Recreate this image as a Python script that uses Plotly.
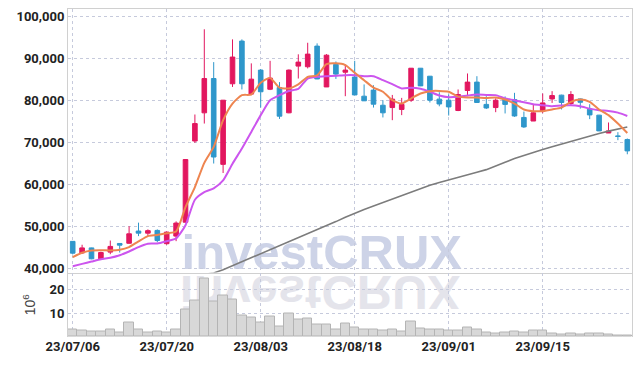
import base64
import plotly.graph_objects as go

# ---------------- data ----------------
dates = [
    "23/07/06", "23/07/07", "23/07/10", "23/07/11", "23/07/12", "23/07/13", "23/07/14",
    "23/07/17", "23/07/18", "23/07/19", "23/07/20", "23/07/21", "23/07/24", "23/07/25",
    "23/07/26", "23/07/27", "23/07/28", "23/07/31",
    "23/08/01", "23/08/02", "23/08/03", "23/08/04", "23/08/07", "23/08/08", "23/08/09",
    "23/08/10", "23/08/11", "23/08/14", "23/08/16", "23/08/17", "23/08/18", "23/08/21",
    "23/08/22", "23/08/23", "23/08/24", "23/08/25", "23/08/28", "23/08/29", "23/08/30",
    "23/08/31",
    "23/09/01", "23/09/04", "23/09/05", "23/09/06", "23/09/07", "23/09/08", "23/09/11",
    "23/09/12", "23/09/13", "23/09/14", "23/09/15", "23/09/18", "23/09/19", "23/09/20",
    "23/09/21", "23/09/22", "23/09/25", "23/09/26", "23/09/27",
    "23/10/04",
]

opens = [46450, 43700, 44900, 42300, 43900, 45950, 46000, 48900, 48400, 49050,
         45900, 47700, 51000, 70300, 77000, 85150, 64750, 83900, 94050, 81450,
         87150, 82600, 83000, 77000, 88100, 87950, 92850, 83150, 88500, 86650,
         85500, 80950, 82400, 78800, 78250, 77800, 80000, 87600, 85700, 80250,
         80000, 77550, 82300, 84300, 79000, 78250, 80300, 80150, 75900, 75050,
         77400, 80300, 81200, 79200, 80300, 77850, 76450, 72200, 71500, 70650]
highs = [46500, 45650, 44950, 44000, 46650, 46000, 50050, 50900, 49300, 49300,
         48800, 51200, 66000, 76600, 96850, 89050, 80050, 94450, 94450, 88750,
         87400, 89350, 84300, 87300, 90900, 93650, 93500, 90950, 89200, 88500,
         89350, 83750, 83550, 80000, 81250, 80550, 87650, 87650, 85750, 81900,
         81350, 82550, 86350, 85700, 80950, 80450, 80900, 81750, 77300, 78950,
         81600, 82150, 81300, 82150, 80400, 79050, 76500, 74700, 72400, 70900]
lows = [43350, 43500, 42200, 42100, 43400, 43800, 45900, 47700, 47700, 46250,
        45650, 46500, 50900, 69850, 74450, 64950, 62700, 83150, 82550, 81400,
        78250, 82400, 75550, 76900, 85150, 87550, 85000, 83150, 85050, 80950,
        81200, 79800, 78250, 75900, 75250, 76450, 79600, 83350, 79450, 78550,
        76350, 77400, 80950, 79400, 77900, 77150, 76850, 76050, 73400, 75050,
        76900, 79350, 77800, 78850, 78000, 75500, 72650, 72200, 70500, 67150]
closes = [43650, 44900, 42300, 43800, 45250, 45550, 48250, 48400, 49000, 46650,
          48650, 50800, 65900, 74450, 85150, 66500, 80000, 90250, 83900, 85000,
          82000, 85250, 76200, 87150, 89050, 90950, 85050, 90700, 86200, 87150,
          81250, 79850, 79050, 77000, 80250, 79000, 87600, 83400, 80000, 79100,
          78400, 81350, 84300, 79450, 78150, 80000, 79000, 76250, 73650, 77000,
          79350, 81100, 79450, 81350, 79500, 76500, 72700, 72700, 71400, 67950]

ma_short = [42700, 43750, 44300, 44350, 44300, 44450, 45100, 46450, 47700, 47950,
            48400, 48800, 54600, 59350, 65100, 68900, 75250, 79200, 81200, 81350,
            84150, 85300, 83000, 82800, 83750, 85550, 85900, 88550, 88750, 88350,
            86500, 84750, 83000, 82000, 80000, 79200, 80400, 81600, 82150, 82200,
            82000, 80850, 80650, 80650, 80550, 80650, 80150, 79200, 77800, 77400,
            77400, 77800, 78250, 79600, 80150, 79600, 77800, 76450, 74450, 72200]
ma_mid = [40550, 41100, 41650, 42200, 42550, 43150, 44050, 45100, 45900, 45950,
          46500, 47150, 50300, 56350, 58150, 59050, 60950, 64900, 68500, 72450,
          76450, 80000, 81200, 82200, 82700, 85150, 85550, 85700, 85800, 85950,
          85950, 85700, 85700, 84750, 83800, 82800, 82950, 82700, 82000, 81100,
          80700, 80800, 81100, 81350, 81250, 81200, 80400, 80000, 79500, 79050,
          78800, 78550, 78750, 78800, 78550, 78000, 77600, 77450, 77050, 76250]
ma_long = [None] * 14 + [
    38600, 38950, 39700, 40650, 41600, 42550, 43500, 44450, 45400, 46350,
    47250, 48200, 49150, 50150, 51150, 52200, 53200, 54050, 54850, 55700,
    56550, 57400, 58250, 59100, 59800, 60450, 61100, 61650, 62250, 62900,
    63500, 64300, 65250, 66150, 66900, 67600, 68300, 68950, 69600, 70200,
    70850, 71500, 72100, 72650, 73150, 73650]

volume = [3.3, 2.9, 2.5, 2.5, 3.3, 2.1, 6.2, 3.3, 2.1, 2.5,
          2.1, 3.3, 11.7, 15.3, 24.6, 14.9, 17.4, 15.8, 9.2, 8.3,
          6.2, 8.7, 4.6, 9.9, 7.5, 7.9, 5.1, 5.4, 3.2, 5.8,
          4.2, 3.3, 3.0, 2.8, 3.3, 2.2, 6.6, 3.4, 3.3, 3.2,
          2.9, 2.8, 4.1, 3.3, 1.7, 1.3, 2.0, 2.3, 1.9, 2.6,
          2.8, 1.4, 1.1, 1.4, 1.0, 1.4, 1.4, 1.0, 0.8, 0.8]

price_ticks = [40000, 50000, 60000, 70000, 80000, 90000, 100000]
volume_ticks = [10, 20]
date_ticks = dates[::10]

# ---------------- styling ----------------
RED = "#e2175f"
BLUE = "#2f97cb"
GRID = "#c6cadc"
FRAME = "#d0d0d0"
TICKFONT = dict(family="Roboto, sans-serif", size=13, color="#222222", weight="bold")

fig = go.Figure()
fig.add_trace(go.Candlestick(
    x=dates, open=opens, high=highs, low=lows, close=closes,
    increasing=dict(line=dict(color=RED, width=1), fillcolor=RED),
    decreasing=dict(line=dict(color=BLUE, width=1), fillcolor=BLUE),
    whiskerwidth=0, xaxis="x", yaxis="y", showlegend=False, name="price"))
fig.add_trace(go.Scatter(x=dates, y=ma_long, mode="lines", xaxis="x", yaxis="y",
                         line=dict(color="#7c7c7c", width=1.6), showlegend=False))
fig.add_trace(go.Scatter(x=dates, y=ma_mid, mode="lines", xaxis="x", yaxis="y",
                         line=dict(color="#cc55ee", width=2, shape="spline", smoothing=0.6),
                         showlegend=False))
fig.add_trace(go.Scatter(x=dates, y=ma_short, mode="lines", xaxis="x", yaxis="y",
                         line=dict(color="#ee8550", width=2, shape="spline", smoothing=0.6),
                         showlegend=False))
fig.add_trace(go.Bar(x=dates, y=volume, xaxis="x2", yaxis="y2", showlegend=False,
                     marker=dict(color="#d8d8d8", line=dict(color="#b4b4b4", width=1))))

split = 0.1966

xcommon = dict(type="category", categoryorder="array", categoryarray=dates,
               range=[-0.5, len(dates) - 0.5], tickmode="array", tickvals=date_ticks,
               showgrid=True, gridcolor=GRID, griddash="dot", gridwidth=1,
               zeroline=False, ticks="", automargin=False)

fig.update_layout(
    width=642, height=366,
    margin=dict(l=68, r=10, t=9, b=29, pad=0),
    paper_bgcolor="white", plot_bgcolor="white",
    showlegend=False, bargap=0,
    xaxis=dict(**xcommon, anchor="y", showticklabels=False,
               rangeslider=dict(visible=False),
               showline=True, linecolor=FRAME, linewidth=1, mirror=True),
    xaxis2=dict(**xcommon, anchor="y2", matches="x", showticklabels=True,
                tickfont=TICKFONT, showline=False),
    yaxis=dict(domain=[split, 1], range=[39050, 101670], tickmode="array",
               tickvals=price_ticks, tickformat=",d", tickfont=TICKFONT,
               showgrid=True, gridcolor=GRID, griddash="dot", zeroline=False,
               showline=True, linecolor=FRAME, linewidth=1, mirror=True, ticks="",
               automargin=False),
    yaxis2=dict(domain=[0, split], range=[0, 27.2], tickmode="array",
                tickvals=volume_ticks, tickfont=TICKFONT,
                showgrid=True, gridcolor=GRID, griddash="dot", zeroline=False,
                showline=True, linecolor=FRAME, linewidth=1, mirror=True, ticks="",
                automargin=False,
                title=dict(text="10<sup>6</sup>", standoff=10,
                           font=dict(family="Liberation Sans, Arial, sans-serif",
                                     size=14, color="#444444"))),
)

# watermark (real text, beneath the data)
fig.add_shape(type="rect", xref="paper", yref="paper",
              x0=0.16, x1=0.74, y0=split + 0.0166, y1=split + 0.1366,
              line=dict(width=0), fillcolor="rgba(0,0,0,0)", layer="below",
              label=dict(text="investCRUX", textposition="middle center",
                         font=dict(family="Liberation Sans, Arial, sans-serif",
                                   size=49, color="#cdd3e7", weight="bold")))

# mirrored reflection of the watermark in the volume panel
svg = ('<svg xmlns="http://www.w3.org/2000/svg" width="300" height="50" viewBox="0 0 300 50">'
       '<text x="150" y="-3" transform="scale(1,-1)" text-anchor="middle" '
       'font-family="Liberation Sans, Arial, sans-serif" font-weight="bold" '
       'font-size="49" fill="#e4e4eb">investCRUX</text></svg>')
src = "data:image/svg+xml;base64," + base64.b64encode(svg.encode()).decode()
fig.add_layout_image(dict(source=src, xref="paper", yref="paper",
                          x=(170 - 68) / 564, y=(337 - 272.5) / 328,
                          sizex=300 / 564, sizey=50 / 328,
                          xanchor="left", yanchor="top", sizing="stretch",
                          layer="below"))

fig.write_html("out.html",
               config={"displayModeBar": False},
               post_script="document.body.style.margin='0';document.body.style.padding='0';")
